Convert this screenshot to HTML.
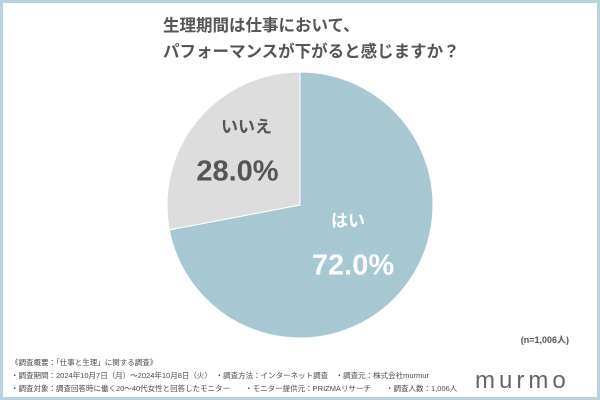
<!DOCTYPE html>
<html><head><meta charset="utf-8"><style>
html,body{margin:0;padding:0;background:#fff}
.wrap{position:relative;width:600px;height:400px;box-sizing:border-box;border:3px solid #b9d3dc;background:#fff;font-family:"Liberation Sans","Noto Sans CJK JP",sans-serif;color:#555;overflow:hidden}
.title{position:absolute;left:160px;top:10px;font-size:16.5px;font-weight:bold;line-height:26px;color:#555;margin:0}
.note{position:absolute;font-size:7.5px;color:#4a4a4a;white-space:nowrap}
.n{position:absolute;right:28px;top:330px;font-size:9px;font-weight:bold;color:#555}
.logo{position:absolute;left:472px;top:364px;font-size:24px;color:#666;letter-spacing:4px;font-weight:300}
</style></head><body>
<div class="wrap">
<h1 class="title">生理期間は仕事において、<br>パフォーマンスが下がると感じますか？</h1>
<svg id="pie" width="594" height="394" style="position:absolute;left:-3px;top:-3px"></svg>
<div class="n">(n=1,006人)</div>
<div class="note" style="left:8px;top:354px">《調査概要：「仕事と生理」に関する調査》</div>
<div class="note" style="left:8px;top:367px">・調査期間：2024年10月7日（月）〜2024年10月8日（火）　・調査方法：インターネット調査　・調査元：株式会社murmur</div>
<div class="note" style="left:8px;top:380px">・調査対象：調査回答時に働く20〜40代女性と回答したモニター　　・モニター提供元：PRIZMAリサーチ　　・調査人数：1,006人</div>
<div class="logo">murmo</div>
</div>
<script>
const categories=["はい","いいえ"];
const values=[72.0,28.0];
const labels=["72.0%","28.0%"];
const svg=document.getElementById('pie');
const NS='http://www.w3.org/2000/svg';
const cx=300,cy=205,r=133;
const colors=["#a7c7d3","#dddddd"];
const textColors=["#ffffff","#555555"];
const total=values.reduce((a,b)=>a+b,0);
function pt(a,rr){return [cx+rr*Math.sin(a),cy-rr*Math.cos(a)];}
let start=0;
values.forEach((v,i)=>{
  const sweep=v/total*2*Math.PI,end=start+sweep;
  const [x1,y1]=pt(start,r),[x2,y2]=pt(end,r);
  const p=document.createElementNS(NS,'path');
  p.setAttribute('d',`M${cx},${cy}L${x1},${y1}A${r},${r} 0 ${sweep>Math.PI?1:0} 1 ${x2},${y2}Z`);
  p.setAttribute('fill',colors[i]);
  p.setAttribute('stroke','#fff');
  p.setAttribute('stroke-width','1');
  
  
  svg.appendChild(p);
  const mid=start+sweep/2;
  const rr=i===0?0.42*r:0.62*r;
  const [lx0,ly]=pt(mid,rr);
  const lx=lx0+(i===0?10:1);
  const t1=document.createElementNS(NS,'text');
  t1.setAttribute('x',lx+(i===0?-5:9));t1.setAttribute('y',ly-(i===0?14:20));
  t1.setAttribute('text-anchor','middle');t1.setAttribute('font-size','17');t1.setAttribute('font-weight','bold');
  t1.setAttribute('fill',textColors[i]);
  t1.setAttribute('font-family','"Liberation Sans","Noto Sans CJK JP",sans-serif');
  t1.textContent=categories[i];
  
  
  svg.appendChild(t1);
  const t2=document.createElementNS(NS,'text');
  t2.setAttribute('x',lx);t2.setAttribute('y',ly+(i===0?34:28));
  t2.setAttribute('text-anchor','middle');t2.setAttribute('font-size','29');t2.setAttribute('font-weight','bold');
  t2.setAttribute('fill',textColors[i]);
  t2.setAttribute('font-family','"Liberation Sans",sans-serif');
  t2.textContent=labels[i];
  
  
  svg.appendChild(t2);
  start=end;
});
</script>
</body></html>
